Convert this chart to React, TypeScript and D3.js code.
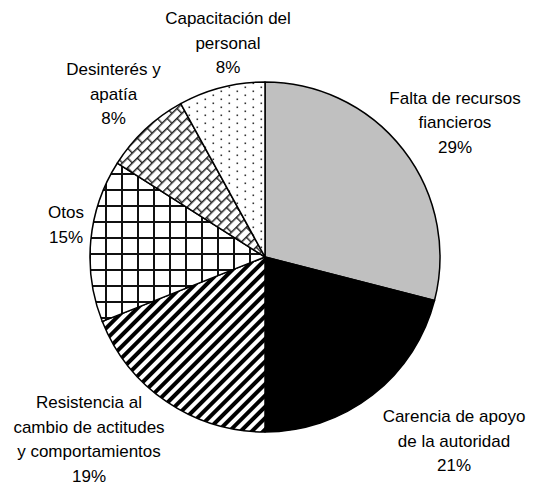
import * as d3 from "d3";
import React, { useEffect, useRef } from "react";

// causes and their share (%)
const categories = [
  "Falta de recursos fiancieros",
  "Carencia de apoyo de la autoridad",
  "Resistencia al cambio de actitudes y comportamientos",
  "Otos",
  "Desinterés y apatía",
  "Capacitación del personal",
];
const values = [29, 21, 19, 15, 8, 8];
const labelLines = [
  ["Falta de recursos", "fiancieros"],
  ["Carencia de apoyo", "de la autoridad"],
  ["Resistencia al", "cambio de actitudes", "y comportamientos"],
  ["Otos"],
  ["Desinterés y", "apatía"],
  ["Capacitación del", "personal"],
];
const fills = ["#c0c0c0", "#000000", "url(#stripes)", "url(#grid)", "url(#brick)", "url(#dots)"];

// label block anchor (center x, first baseline) relative to pie center
const labelOffsets: [number, number][] = [
  [190, -153.5],
  [189, 165],
  [-176, 151],
  [-199, -39],
  [-151.5, -182],
  [-37, -233],
];

const W = 534;
const H = 485;
const cx = 265;
const cy = 257;
const radius = 175;
const lineH = 24.5;

export default function App() {
  const svgRef = useRef<SVGSVGElement>(null);

  useEffect(() => {
    const svg = d3.select(svgRef.current);
    svg.selectAll("*").remove();

    const defs = svg.append("defs");

    // wide upward diagonal
    const stripes = defs.append("pattern")
      .attr("id", "stripes")
      .attr("patternUnits", "userSpaceOnUse")
      .attr("width", 8)
      .attr("height", 8)
      .attr("patternTransform", "rotate(45)");
    stripes.append("rect").attr("width", 8).attr("height", 8).attr("fill", "#fff");
    stripes.append("rect").attr("width", 4).attr("height", 8).attr("fill", "#000");

    // large grid
    const grid = defs.append("pattern")
      .attr("id", "grid")
      .attr("patternUnits", "userSpaceOnUse")
      .attr("x", 112)
      .attr("y", 252)
      .attr("width", 16)
      .attr("height", 16);
    grid.append("rect").attr("width", 16).attr("height", 16).attr("fill", "#fff");
    grid.append("rect").attr("width", 2).attr("height", 16).attr("fill", "#111");
    grid.append("rect").attr("width", 16).attr("height", 2).attr("fill", "#111");

    // diagonal brick
    const brick = defs.append("pattern")
      .attr("id", "brick")
      .attr("patternUnits", "userSpaceOnUse")
      .attr("width", 14)
      .attr("height", 14)
      .attr("patternTransform", "rotate(-45)");
    brick.append("rect").attr("width", 14).attr("height", 14).attr("fill", "#fff");
    brick.append("path")
      .attr("d", "M0,0.75H14M0,7.75H14M0.75,0V7M7.75,7V14")
      .attr("stroke", "#222")
      .attr("stroke-width", 1.4)
      .attr("fill", "none");

    // sparse dots
    const dots = defs.append("pattern")
      .attr("id", "dots")
      .attr("patternUnits", "userSpaceOnUse")
      .attr("width", 16)
      .attr("height", 8);
    dots.append("rect").attr("width", 16).attr("height", 8).attr("fill", "#fff");
    dots.append("rect").attr("x", 3.5).attr("y", 1.5).attr("width", 1.6).attr("height", 1.6).attr("fill", "#333");
    dots.append("rect").attr("x", 11.5).attr("y", 5.5).attr("width", 1.6).attr("height", 1.6).attr("fill", "#333");

    const pie = d3.pie<number>().sort(null).value((d) => d);
    const arcs = pie(values);
    const arc = d3.arc<d3.PieArcDatum<number>>().innerRadius(0).outerRadius(radius);

    const g = svg.append("g").attr("transform", `translate(${cx},${cy})`);

    g.selectAll("path.slice")
      .data(arcs)
      .enter()
      .append("path")
      .attr("class", "slice")
      .attr("d", arc)
      .attr("fill", (d, i) => fills[i])
      .attr("stroke", "#000")
      .attr("stroke-width", 1.5)
      .attr("stroke-linejoin", "round");

    const labels = g.selectAll("text.label")
      .data(arcs)
      .enter()
      .append("text")
      .attr("class", "label")
      .attr("text-anchor", "middle")
      .attr("font-family", "'Liberation Sans', Arial, sans-serif")
      .attr("font-size", "17px")
      .attr("fill", "#000")
      .attr("x", (d, i) => labelOffsets[i][0])
      .attr("y", (d, i) => labelOffsets[i][1]);

    labels.each(function (d, i) {
      const t = d3.select(this);
      const lines = [...labelLines[i], `${values[i]}%`];
      lines.forEach((ln, j) => {
        t.append("tspan")
          .attr("x", labelOffsets[i][0])
          .attr("y", labelOffsets[i][1] + j * lineH)
          .text(ln);
      });
    });
  }, []);

  return (
    <svg
      ref={svgRef}
      width={W}
      height={H}
      style={{ position: "absolute", left: 0, top: 0, background: "#fff" }}
      aria-label={categories.join(", ")}
    />
  );
}
